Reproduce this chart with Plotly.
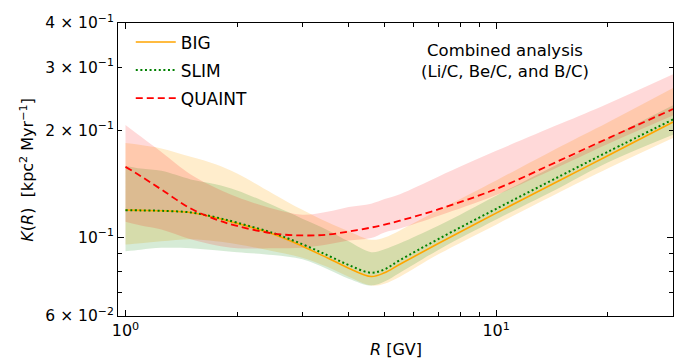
import plotly.graph_objects as go

# Rigidity R [GV]
R = [1, 1.1, 1.25, 1.5, 1.75, 2, 2.5, 3, 3.5, 4, 4.6, 5, 5.5, 7, 10, 15, 20, 30]

# Median K(R) curves [kpc^2/Myr]
big = [0.1191, 0.1189, 0.1186, 0.1173, 0.1134, 0.1093, 0.1020, 0.0943, 0.0875, 0.0818,
       0.0775, 0.0794, 0.0839, 0.0961, 0.1168, 0.1452, 0.1694, 0.2107]
slim = [0.1191, 0.1189, 0.1186, 0.1173, 0.1137, 0.1098, 0.1027, 0.0955, 0.0890, 0.0835,
        0.0794, 0.0812, 0.0862, 0.0989, 0.1201, 0.1491, 0.1737, 0.2143]
quaint = [0.1576, 0.1484, 0.1361, 0.1203, 0.1122, 0.1075, 0.1024, 0.1011, 0.1016, 0.1037,
          0.1064, 0.1084, 0.1112, 0.1198, 0.1366, 0.1651, 0.1895, 0.2291]

# Uncertainty bands
big_hi = [0.1840, 0.1816, 0.1776, 0.1683, 0.1604, 0.1510, 0.1325, 0.1193, 0.1102, 0.1039,
          0.0983, 0.0998, 0.1044, 0.1193, 0.1444, 0.1805, 0.2102, 0.2627]
big_lo = [0.0953, 0.0961, 0.0973, 0.0986, 0.0973, 0.0955, 0.0913, 0.0875, 0.0825, 0.0774,
          0.0731, 0.0740, 0.0774, 0.0896, 0.1084, 0.1346, 0.1559, 0.1899]
slim_hi = [0.1586, 0.1559, 0.1536, 0.1453, 0.1408, 0.1353, 0.1229, 0.1127, 0.1048, 0.0973,
           0.0907, 0.0925, 0.0961, 0.1078, 0.1308, 0.1625, 0.1893, 0.2347]
slim_lo = [0.0913, 0.0922, 0.0933, 0.0931, 0.0919, 0.0907, 0.0890, 0.0866, 0.0814, 0.0764,
           0.0731, 0.0750, 0.0794, 0.0922, 0.1120, 0.1386, 0.1620, 0.1939]
quaint_hi = [0.2067, 0.1917, 0.1734, 0.1500, 0.1377, 0.1296, 0.1201, 0.1156, 0.1178, 0.1216,
             0.1242, 0.1280, 0.1321, 0.1481, 0.1748, 0.2089, 0.2373, 0.2872]
quaint_lo = [0.1105, 0.1078, 0.1050, 0.0986, 0.0949, 0.0931, 0.0931, 0.0933, 0.0953, 0.0978,
             0.0994, 0.1031, 0.1057, 0.1148, 0.1313, 0.1589, 0.1828, 0.2198]

y_tickvals = [0.06, 0.1, 0.2, 0.3, 0.4]
y_ticktext = ["6 × 10<sup>−2</sup>", "10<sup>−1</sup>", "2 × 10<sup>−1</sup>",
              "3 × 10<sup>−1</sup>", "4 × 10<sup>−1</sup>"]
y_minor = [0.07, 0.08, 0.09]
x_tickvals = [1, 10]
x_ticktext = ["10<sup>0</sup>", "10<sup>1</sup>"]
x_minor = [2, 3, 4, 5, 6, 7, 8, 9, 20]

FONT = "DejaVu Sans"
fig = go.Figure()

bands = [
    (big_lo, big_hi, "rgba(255,165,0,0.20)"),
    (slim_lo, slim_hi, "rgba(0,128,0,0.16)"),
    (quaint_lo, quaint_hi, "rgba(255,0,0,0.15)"),
]
for lo, hi, col in bands:
    fig.add_trace(go.Scatter(x=R, y=lo, mode="lines", line=dict(width=0, shape="spline"),
                             showlegend=False, hoverinfo="skip"))
    fig.add_trace(go.Scatter(x=R, y=hi, mode="lines", line=dict(width=0, shape="spline"),
                             fill="tonexty", fillcolor=col, showlegend=False, hoverinfo="skip"))

fig.add_trace(go.Scatter(x=R, y=big, mode="lines", name="BIG", legendgroup="g1",
                         line=dict(color="orange", width=1.6, shape="spline")))
fig.add_trace(go.Scatter(x=R, y=slim, mode="lines", name="SLIM", legendgroup="g2",
                         line=dict(color="green", width=2, dash="2px,2.6px", shape="spline")))
fig.add_trace(go.Scatter(x=R, y=quaint, mode="lines", name="QUAINT", legendgroup="g3",
                         line=dict(color="red", width=1.8, dash="7px,4px", shape="spline")))

# extra axis just to draw the long tick at 10^-1
fig.add_trace(go.Scatter(x=[R[0]], y=[0.1], yaxis="y2", mode="markers",
                         marker=dict(opacity=0), showlegend=False, hoverinfo="skip"))

fig.update_layout(
    width=686, height=360,
    margin=dict(l=118, r=12, t=18, b=44),
    paper_bgcolor="white", plot_bgcolor="white",
    font=dict(family=FONT, size=16, color="black"),
    xaxis=dict(type="log", range=[-0.0202, 1.4771],
               tickmode="array", tickvals=x_tickvals, ticktext=x_ticktext,
               ticks="inside", ticklen=6, tickwidth=1, tickcolor="black",
               showline=True, linecolor="black", linewidth=1.2, mirror="ticks",
               showgrid=False, zeroline=False, tickfont=dict(size=16),
               minor=dict(tickmode="array", tickvals=x_minor, ticks="inside",
                          ticklen=3.5, tickwidth=0.8, tickcolor="black", showgrid=False)),
    yaxis=dict(type="log", range=[-1.2218, -0.3979],
               tickmode="array", tickvals=y_tickvals, ticktext=y_ticktext,
               ticks="inside", ticklen=3.5, tickwidth=0.8, tickcolor="black",
               showline=True, linecolor="black", linewidth=1.2, mirror="ticks",
               showgrid=False, zeroline=False, tickfont=dict(size=15.5),
               minor=dict(tickmode="array", tickvals=y_minor, ticks="inside",
                          ticklen=3.5, tickwidth=0.8, tickcolor="black", showgrid=False)),
    yaxis2=dict(type="log", range=[-1.2218, -0.3979], overlaying="y", side="left",
                tickmode="array", tickvals=[0.1], ticktext=[""], ticks="inside",
                ticklen=6, tickwidth=1, tickcolor="black", mirror="ticks",
                showline=False, showgrid=False, zeroline=False, showticklabels=False),
    legend=dict(x=0.023, y=0.995, xanchor="left", yanchor="top", traceorder="grouped",
                bgcolor="rgba(0,0,0,0)", font=dict(size=17, family=FONT),
                itemwidth=40, tracegroupgap=3),
    annotations=[
        dict(text="Combined analysis<br>(Li/C, Be/C, and B/C)", x=0.698, y=0.87,
             xref="paper", yref="paper", showarrow=False, font=dict(size=16.5),
             xanchor="center", yanchor="middle", align="center"),
        dict(text="<i>K</i>(<i>R</i>)  [kpc<sup>2</sup> Myr<sup>−1</sup>]", textangle=-90,
             x=(27 - 118) / (686 - 118 - 12), xref="paper", xanchor="center",
             y=0.5, yref="paper", showarrow=False, font=dict(size=16)),
        dict(text="<i>R</i> [GV]", x=0.5, xref="paper", y=-0.115, yref="paper",
             showarrow=False, font=dict(size=16), yanchor="middle"),
    ],
)

fig.write_html("out.html")
